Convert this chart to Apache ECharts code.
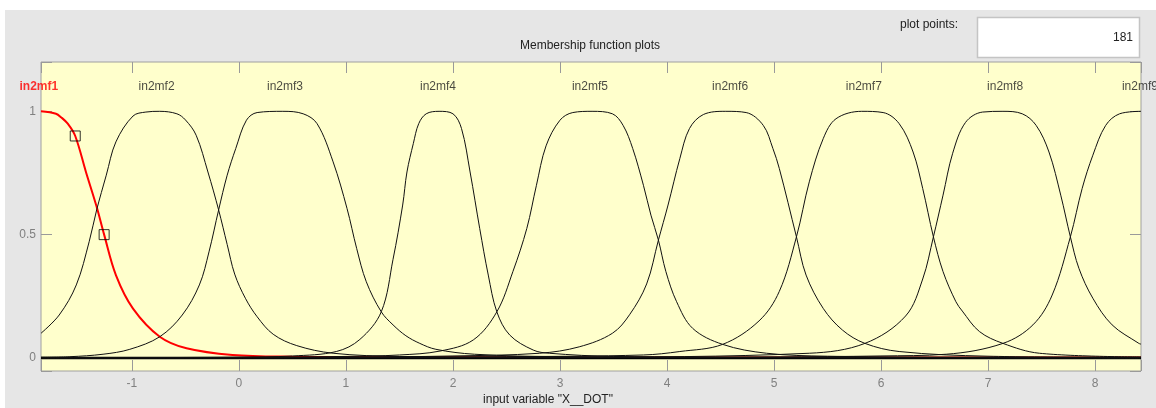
<!DOCTYPE html>
<html>
<head>
<meta charset="utf-8">
<script src="https://cdn.jsdelivr.net/npm/echarts@6/dist/echarts.min.js"></script>
<style>
html,body{margin:0;padding:0;background:#ffffff;}
#bg{position:absolute;left:5px;top:10px;width:1151px;height:398px;background:#e6e6e6;}
#chart{position:absolute;left:0;top:0;width:1156px;height:408px;}
</style>
</head>
<body>
<div id="bg"></div>
<div id="chart"></div>
<script>
// ---- data ----
const xTickValues = [-1, 0, 1, 2, 3, 4, 5, 6, 7, 8];
const yTickValues = [0, 0.5, 1];
const mfNames = ['in2mf1','in2mf2','in2mf3','in2mf4','in2mf5','in2mf6','in2mf7','in2mf8','in2mf9'];
const mfLabelX = [-1.87, -0.77, 0.43, 1.86, 3.28, 4.59, 5.84, 7.16, 8.42];

const mf1 = [[-1.85,1.0],[-1.71,0.99],[-1.66,0.975],[-1.60,0.95],[-1.53,0.90],[-1.43,0.754],[-1.33,0.613],[-1.26,0.50],[-1.15,0.336],[-0.99,0.20],[-0.74,0.086],[-0.49,0.039],[-0.06,0.012],[0.5,0.005],[1.5,0.003],[3,0.002],[5,0.002],[8.43,0.002]];
const mf2 = [[-1.85,0.10],[-1.68,0.174],[-1.52,0.296],[-1.40,0.471],[-1.33,0.60],[-1.24,0.741],[-1.15,0.876],[-0.99,0.981],[-0.87,0.997],[-0.74,1.0],[-0.58,0.99],[-0.50,0.965],[-0.40,0.903],[-0.29,0.754],[-0.19,0.60],[-0.11,0.46],[-0.04,0.34],[0.06,0.242],[0.17,0.167],[0.32,0.096],[0.54,0.05],[0.88,0.019],[1.5,0.006],[3,0.002],[8.43,0.0005]];
const mf3 = [[-1.85,0.003],[-1.58,0.005],[-1.27,0.015],[-1.02,0.035],[-0.74,0.086],[-0.53,0.174],[-0.37,0.296],[-0.28,0.43],[-0.19,0.60],[-0.11,0.741],[-0.03,0.849],[0.07,0.964],[0.17,0.995],[0.41,1.0],[0.60,0.99],[0.73,0.95],[0.88,0.795],[1.01,0.606],[1.10,0.444],[1.19,0.309],[1.33,0.187],[1.44,0.134],[1.56,0.09],[1.69,0.059],[1.84,0.035],[2.2,0.015],[3,0.005],[5,0.001],[8.43,0.0005]];
const mf4 = [[-1.85,0.0005],[0,0.003],[0.5,0.008],[0.91,0.026],[1.13,0.075],[1.33,0.187],[1.44,0.40],[1.53,0.62],[1.57,0.754],[1.63,0.87],[1.68,0.95],[1.75,0.99],[1.87,1.0],[2.0,0.99],[2.08,0.93],[2.16,0.754],[2.25,0.525],[2.33,0.336],[2.41,0.187],[2.53,0.093],[2.75,0.032],[2.9,0.019],[3.5,0.006],[5,0.002],[8.43,0.0005]];
const mf5 = [[-1.85,0.0005],[0,0.002],[1.0,0.006],[1.5,0.012],[1.88,0.028],[2.19,0.073],[2.41,0.187],[2.56,0.35],[2.69,0.525],[2.78,0.70],[2.87,0.86],[3.0,0.964],[3.12,0.995],[3.30,1.0],[3.49,0.99],[3.59,0.943],[3.68,0.849],[3.78,0.70],[3.85,0.579],[3.92,0.478],[3.99,0.35],[4.09,0.228],[4.24,0.12],[4.52,0.055],[4.93,0.019],[5.5,0.007],[7,0.002],[8.43,0.001]];
const mf6 = [[-1.85,0.0005],[1,0.003],[2.0,0.008],[2.81,0.019],[3.18,0.045],[3.49,0.10],[3.65,0.175],[3.81,0.30],[3.92,0.478],[4.01,0.62],[4.12,0.808],[4.21,0.93],[4.34,0.987],[4.55,1.0],[4.74,0.995],[4.90,0.943],[4.99,0.849],[5.05,0.768],[5.21,0.491],[5.30,0.336],[5.46,0.201],[5.64,0.113],[5.85,0.059],[6.17,0.026],[7,0.007],[8.43,0.002]];
const mf7 = [[-1.85,0.0005],[1,0.002],[2.5,0.005],[3.78,0.012],[4.12,0.026],[4.52,0.055],[4.86,0.15],[5.05,0.27],[5.21,0.491],[5.33,0.714],[5.46,0.889],[5.58,0.97],[5.82,1.0],[6.02,0.995],[6.17,0.95],[6.30,0.835],[6.39,0.687],[6.49,0.491],[6.58,0.35],[6.70,0.228],[6.76,0.19],[6.92,0.107],[7.14,0.059],[7.48,0.019],[8.43,0.004]];
const mf8 = [[-1.85,0.0005],[3,0.003],[5.33,0.019],[5.85,0.059],[6.23,0.17],[6.39,0.32],[6.49,0.491],[6.58,0.66],[6.67,0.83],[6.79,0.955],[6.95,0.997],[7.14,1.0],[7.32,0.99],[7.45,0.943],[7.57,0.835],[7.68,0.66],[7.77,0.491],[7.85,0.363],[7.98,0.242],[8.16,0.134],[8.41,0.059],[8.43,0.056]];
const mf9 = [[-1.85,0.0003],[3,0.001],[5,0.004],[6.0,0.008],[6.61,0.015],[7.14,0.059],[7.42,0.134],[7.60,0.255],[7.77,0.491],[7.88,0.687],[7.98,0.822],[8.10,0.943],[8.23,0.99],[8.43,1.0]];
const mfHandles = [[-1.53,0.90],[-1.26,0.50]];
const zeroLine = [[-1.85,0],[8.43,0]];
const plotPoints = '181';

const xMin = -1.85, xMax = 8.43, yMin = -0.053, yMax = 1.2;

const chart = echarts.init(document.getElementById('chart'), null, {renderer:'canvas'});
const near = (v, arr) => arr.some(t => Math.abs(t - v) < 1e-6);
const gridTick = {show:true, inside:true, length:11, lineStyle:{color:'#9a9a9a', width:1}};
const noLine = {show:false, onZero:false};
const lblFont = {fontFamily:'Liberation Sans, Arial, sans-serif', fontSize:12};
const textFont = '12px "Liberation Sans", Arial, sans-serif';

const blackCurves = [mf2, mf3, mf4, mf5, mf6, mf7, mf8, mf9];
const series = [];
series.push({type:'line', name:mfNames[0], data:mf1, showSymbol:false, smooth:0.35, z:2,
  lineStyle:{color:'#ff0000', width:2}, xAxisIndex:0, yAxisIndex:0});
series.push({type:'line', data:zeroLine, showSymbol:false, silent:true, z:3,
  lineStyle:{color:'#000', width:2.5}, xAxisIndex:0, yAxisIndex:0});
blackCurves.forEach((d, i) => series.push({type:'line', name:mfNames[i+1], data:d, showSymbol:false,
  smooth:0.35, z:4, lineStyle:{color:'#111', width:1}, xAxisIndex:0, yAxisIndex:0}));
series.push({type:'scatter', data:mfHandles, symbol:'rect', symbolSize:10, z:6,
  itemStyle:{color:'rgba(0,0,0,0)', borderColor:'#000', borderWidth:1}});
series.push({type:'scatter', clip:false, symbolSize:0, z:7, silent:true,
  data: mfNames.map((n, i) => ({value:[mfLabelX[i], 1.1], name:n,
    label:{show:true, position:'inside', formatter:n, color: i === 0 ? '#ff0000' : '#1a1a1a',
      fontWeight: i === 0 ? 'bold' : 'normal', ...lblFont}}))});

chart.setOption({
  animation:false,
  backgroundColor:'transparent',
  grid:{left:41, top:62, width:1100, height:309, show:true, backgroundColor:'#ffffcc',
    borderColor:'#a0a0a0', borderWidth:1, containLabel:false},
  xAxis:[
    {type:'value', min:xMin, max:xMax, splitNumber:10, position:'bottom',
      axisLine:noLine, splitLine:{show:false}, axisTick:gridTick,
      axisLabel:{show:true, margin:7, color:'#808080', ...lblFont,
        formatter: v => near(v, xTickValues) ? String(Math.round(v)) : ''}},
    {type:'value', min:xMin, max:xMax, splitNumber:10, position:'top',
      axisLine:noLine, splitLine:{show:false}, axisTick:gridTick, axisLabel:{show:false}}
  ],
  yAxis:[
    {type:'value', min:yMin, max:yMax, splitNumber:3, position:'left',
      axisLine:noLine, splitLine:{show:false}, axisTick:gridTick,
      axisLabel:{show:true, margin:5, color:'#808080', ...lblFont,
        formatter: v => near(v, yTickValues) ? String(Math.round(v*10)/10) : ''}},
    {type:'value', min:yMin, max:yMax, splitNumber:3, position:'right',
      axisLine:noLine, splitLine:{show:false}, axisTick:gridTick, axisLabel:{show:false}}
  ],
  graphic:[
    {type:'text', x:0, y:0, style:{text:'Membership function plots', x:590, y:46,
      textAlign:'center', textVerticalAlign:'middle', fill:'#222', font:textFont}},
    {type:'text', x:0, y:0, style:{text:'input variable "X__DOT"', x:548, y:400,
      textAlign:'center', textVerticalAlign:'middle', fill:'#222', font:textFont}},
    {type:'text', x:0, y:0, style:{text:'plot points:', x:958, y:25,
      textAlign:'right', textVerticalAlign:'middle', fill:'#222', font:textFont}},
    {type:'rect', x:0, y:0, shape:{x:977.5, y:17.5, width:162, height:40}, style:{fill:'#ffffff', stroke:'#c4c4c4', lineWidth:1.5}},
    {type:'text', x:0, y:0, style:{text:plotPoints, x:1133, y:38,
      textAlign:'right', textVerticalAlign:'middle', fill:'#222', font:textFont}}
  ],
  series: series
});
</script>
</body>
</html>
